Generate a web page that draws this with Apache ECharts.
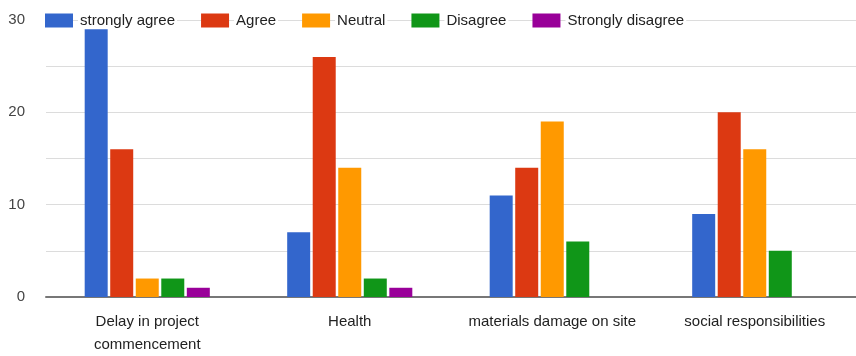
<!DOCTYPE html>
<html>
<head>
<meta charset="utf-8">
<script src="https://cdn.jsdelivr.net/npm/echarts@6/dist/echarts.min.js"></script>
<style>
html,body{margin:0;padding:0;background:#fff;overflow:hidden;}
#chart{width:856px;height:356px;}
</style>
</head>
<body>
<div id="chart"></div>
<script>
const categories = ['Delay in project\ncommencement', 'Health', 'materials damage on site', 'social responsibilities'];
const seriesNames = ['strongly agree', 'Agree', 'Neutral', 'Disagree', 'Strongly disagree'];
const stronglyAgree = [29, 7, 11, 9];
const agree = [16, 26, 14, 20];
const neutral = [2, 14, 19, 16];
const disagree = [2, 2, 6, 5];
const stronglyDisagree = [1, 1, 0, 0];
const colors = ['#3366cc', '#dc3912', '#ff9900', '#109618', '#990099'];
const yTicks = [0, 10, 20, 30];

const values = [stronglyAgree, agree, neutral, disagree, stronglyDisagree];

const chart = echarts.init(document.getElementById('chart'), null, {renderer: 'canvas'});
chart.setOption({
  animation: false,
  color: colors,
  textStyle: {fontFamily: 'Liberation Sans, Arial, sans-serif'},
  legend: {
    top: 13,
    left: 45,
    padding: 0,
    itemWidth: 28,
    itemHeight: 14,
    itemGap: 24,
    icon: 'rect',
    textStyle: {fontSize: 15, color: '#222', backgroundColor: '#fff', padding: [0, 2, 0, 2], fontFamily: 'Liberation Sans, Arial, sans-serif'},
    data: seriesNames
  },
  grid: {left: 46, top: 20, width: 818, bottom: 58, containLabel: false},
  xAxis: {
    type: 'category',
    data: categories,
    axisTick: {show: false},
    axisLine: {lineStyle: {color: '#777', width: 2}},
    axisLabel: {fontSize: 15, color: '#222', margin: 13, lineHeight: 23, interval: 0}
  },
  yAxis: {
    type: 'value',
    min: 0, max: 30, interval: 5,
    axisLine: {show: false},
    axisTick: {show: false},
    splitLine: {lineStyle: {color: '#dcdcdc', width: 1}},
    axisLabel: {
      fontSize: 15, color: '#444', margin: 21,
      formatter: v => yTicks.indexOf(v) >= 0 ? String(v) : ''
    }
  },
  series: seriesNames.map((n, i) => ({
    name: n,
    type: 'bar',
    data: values[i],
    barWidth: 23,
    barGap: '11%',
    itemStyle: {color: colors[i]}
  }))
});
</script>
</body>
</html>
